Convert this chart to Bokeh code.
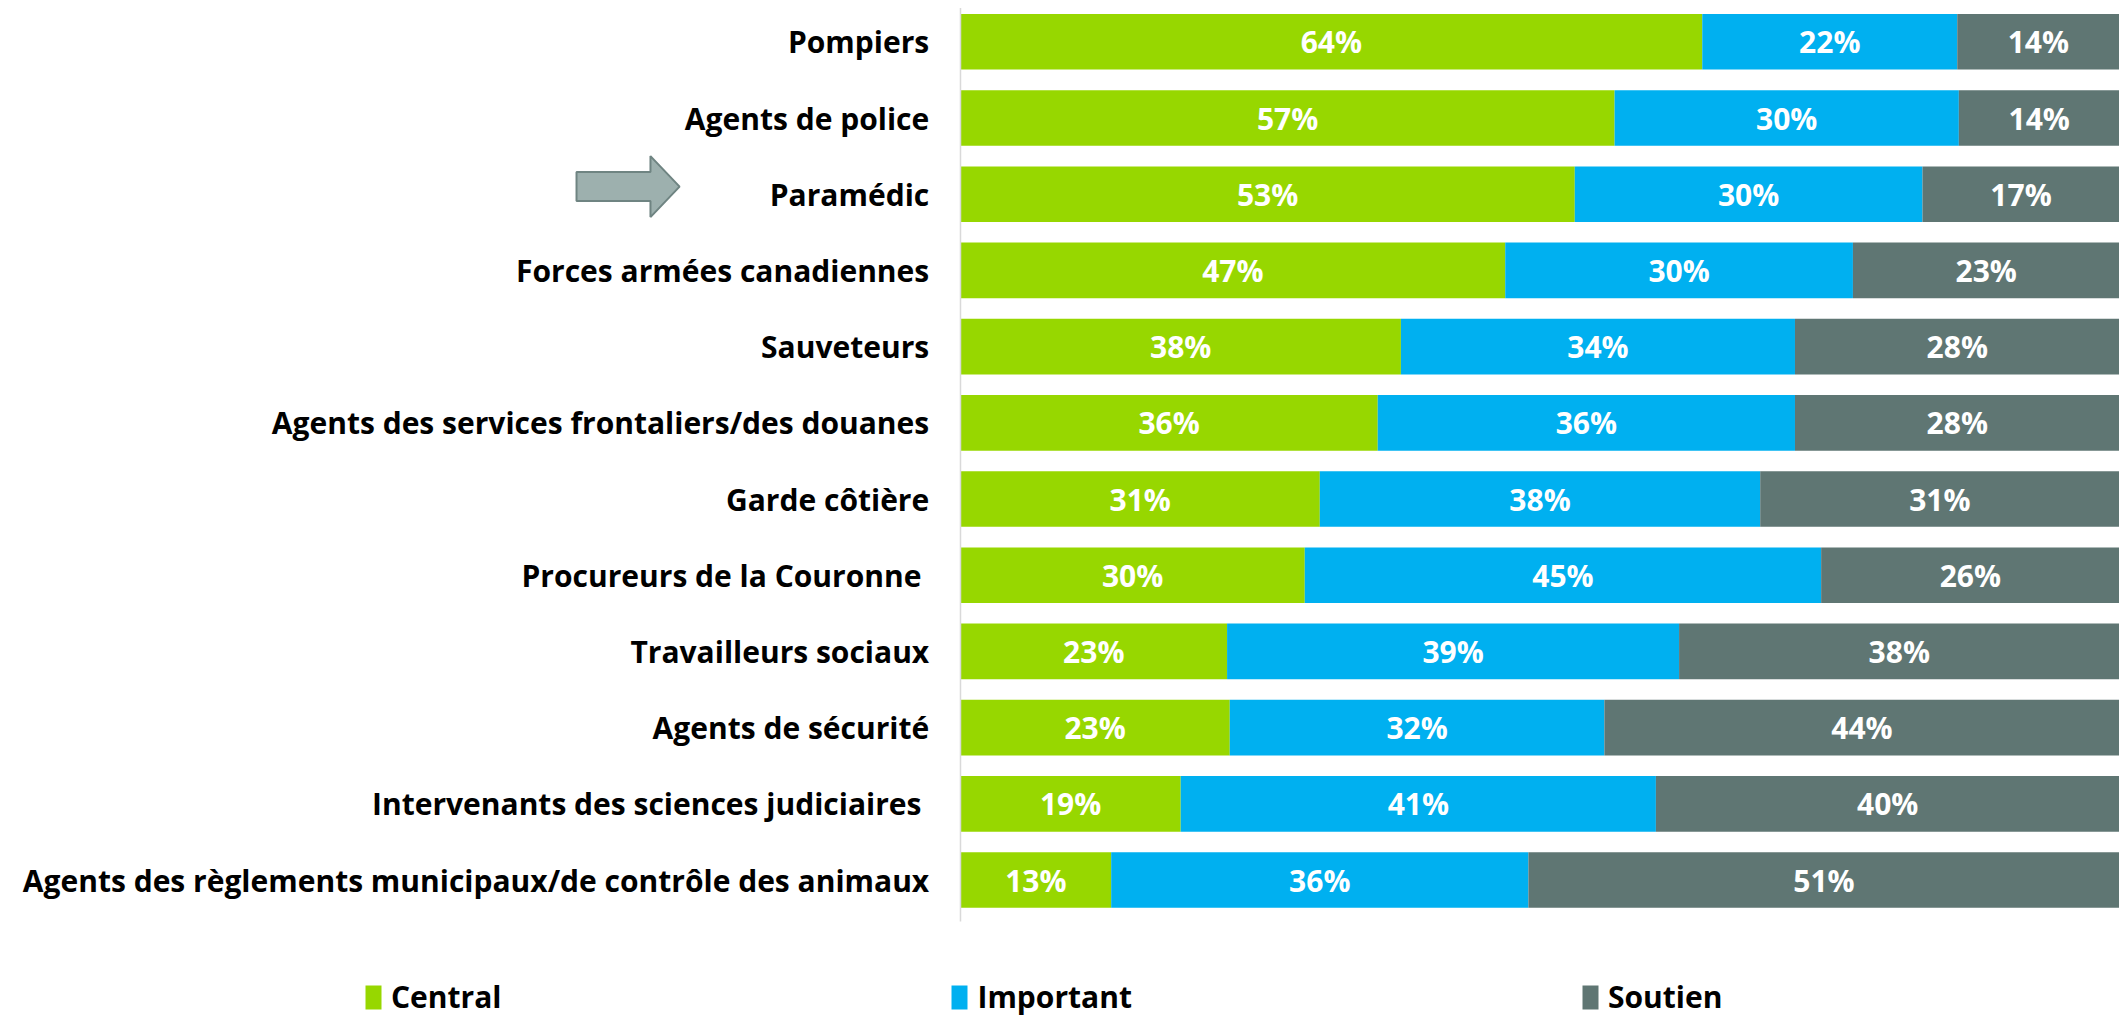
from bokeh.plotting import figure
from bokeh.models import ColumnDataSource, Range1d, Legend, LegendItem
from bokeh.core.properties import value
from bokeh.embed import file_html
from bokeh.resources import INLINE

# ---------------- data ----------------
categories = [
    "Pompiers",
    "Agents de police",
    "Paramédic",
    "Forces armées canadiennes",
    "Sauveteurs",
    "Agents des services frontaliers/des douanes",
    "Garde côtière",
    "Procureurs de la Couronne ",
    "Travailleurs sociaux",
    "Agents de sécurité",
    "Intervenants des sciences judiciaires ",
    "Agents des règlements municipaux/de contrôle des animaux",
]
central = [64, 57, 53, 47, 38, 36, 31, 30, 23, 23, 19, 13]
important = [22, 30, 30, 30, 34, 36, 38, 45, 39, 32, 41, 36]
soutien = [14, 14, 17, 23, 28, 28, 31, 26, 38, 44, 40, 51]
series_names = ["Central", "Important", "Soutien"]
highlight = "Paramédic"

# ---------------- style ----------------
colors = ["#97d700", "#00b0f0", "#5f7673"]
FONT = "Open Sans"
W, H = 2119, 1019

n = len(categories)
ys = list(range(n))
series = [central, important, soutien]
totals = [sum(vals) for vals in zip(*series)]
norm = [[100.0 * v / t for v, t in zip(s, totals)] for s in series]

src = ColumnDataSource(dict(y=ys, cat=categories,
                            **{name: vals for name, vals in zip(series_names, norm)}))

Y_TOP, Y_AXIS_TOP, Y_AXIS_BOTTOM, Y_BOTTOM = -0.542, -0.442, 11.545, 12.83

p = figure(width=W, height=H, output_backend="svg", toolbar_location=None,
           x_range=Range1d(-82.83, 100), y_range=Range1d(Y_BOTTOM, Y_TOP),
           x_axis_location=None, y_axis_location=None, min_border=0)
p.outline_line_color = None
p.grid.visible = False
p.background_fill_color = "white"

rends = p.hbar_stack(series_names, y="y", height=0.73, color=colors,
                     source=src, line_color=None)

# segment labels
lx, ly, lt = [], [], []
for i in range(n):
    left = 0.0
    for s_idx, s in enumerate(series):
        w = norm[s_idx][i]
        lx.append(left + w / 2)
        ly.append(i)
        lt.append(f"{s[i]}%")
        left += w
p.text(x="x", y="y", text="t", source=ColumnDataSource(dict(x=lx, y=ly, t=lt)),
       text_color="white", text_font=value(FONT), text_font_style="bold",
       text_font_size="30px", text_align="center", text_baseline="middle")

# category labels
p.text(x=[-2.7] * n, y=ys, text=categories, text_color="black",
       text_font=value(FONT), text_font_style="bold", text_font_size="30px",
       text_align="right", text_baseline="middle")

# category axis line
p.segment(x0=[0], y0=[Y_AXIS_TOP], x1=[0], y1=[Y_AXIS_BOTTOM], line_color="#d9d9d9", line_width=1.5)

# arrow pointing at highlighted category
hi = categories.index(highlight)
yc = hi - 0.1
ax0, ax1, ax2 = -33.13, -26.75, -24.24
sh, hh = 0.19, 0.40
p.patch(x=[ax0, ax1, ax1, ax2, ax1, ax1, ax0],
        y=[yc - sh, yc - sh, yc - hh, yc, yc + hh, yc + sh, yc + sh],
        fill_color="#9db0ae", line_color="#6f8482", line_width=2)

legend = Legend(items=[LegendItem(label=nm, renderers=[r]) for nm, r in zip(series_names, rends)],
                orientation="horizontal", location=(363, 2), spacing=448,
                glyph_width=20, glyph_height=30, label_standoff=8,
                label_text_font=FONT, label_text_font_style="bold",
                label_text_font_size="30px", label_text_color="black",
                border_line_color=None, background_fill_alpha=0,
                padding=0, margin=0)
p.add_layout(legend)

open("out.html", "w").write(file_html(p, INLINE))
